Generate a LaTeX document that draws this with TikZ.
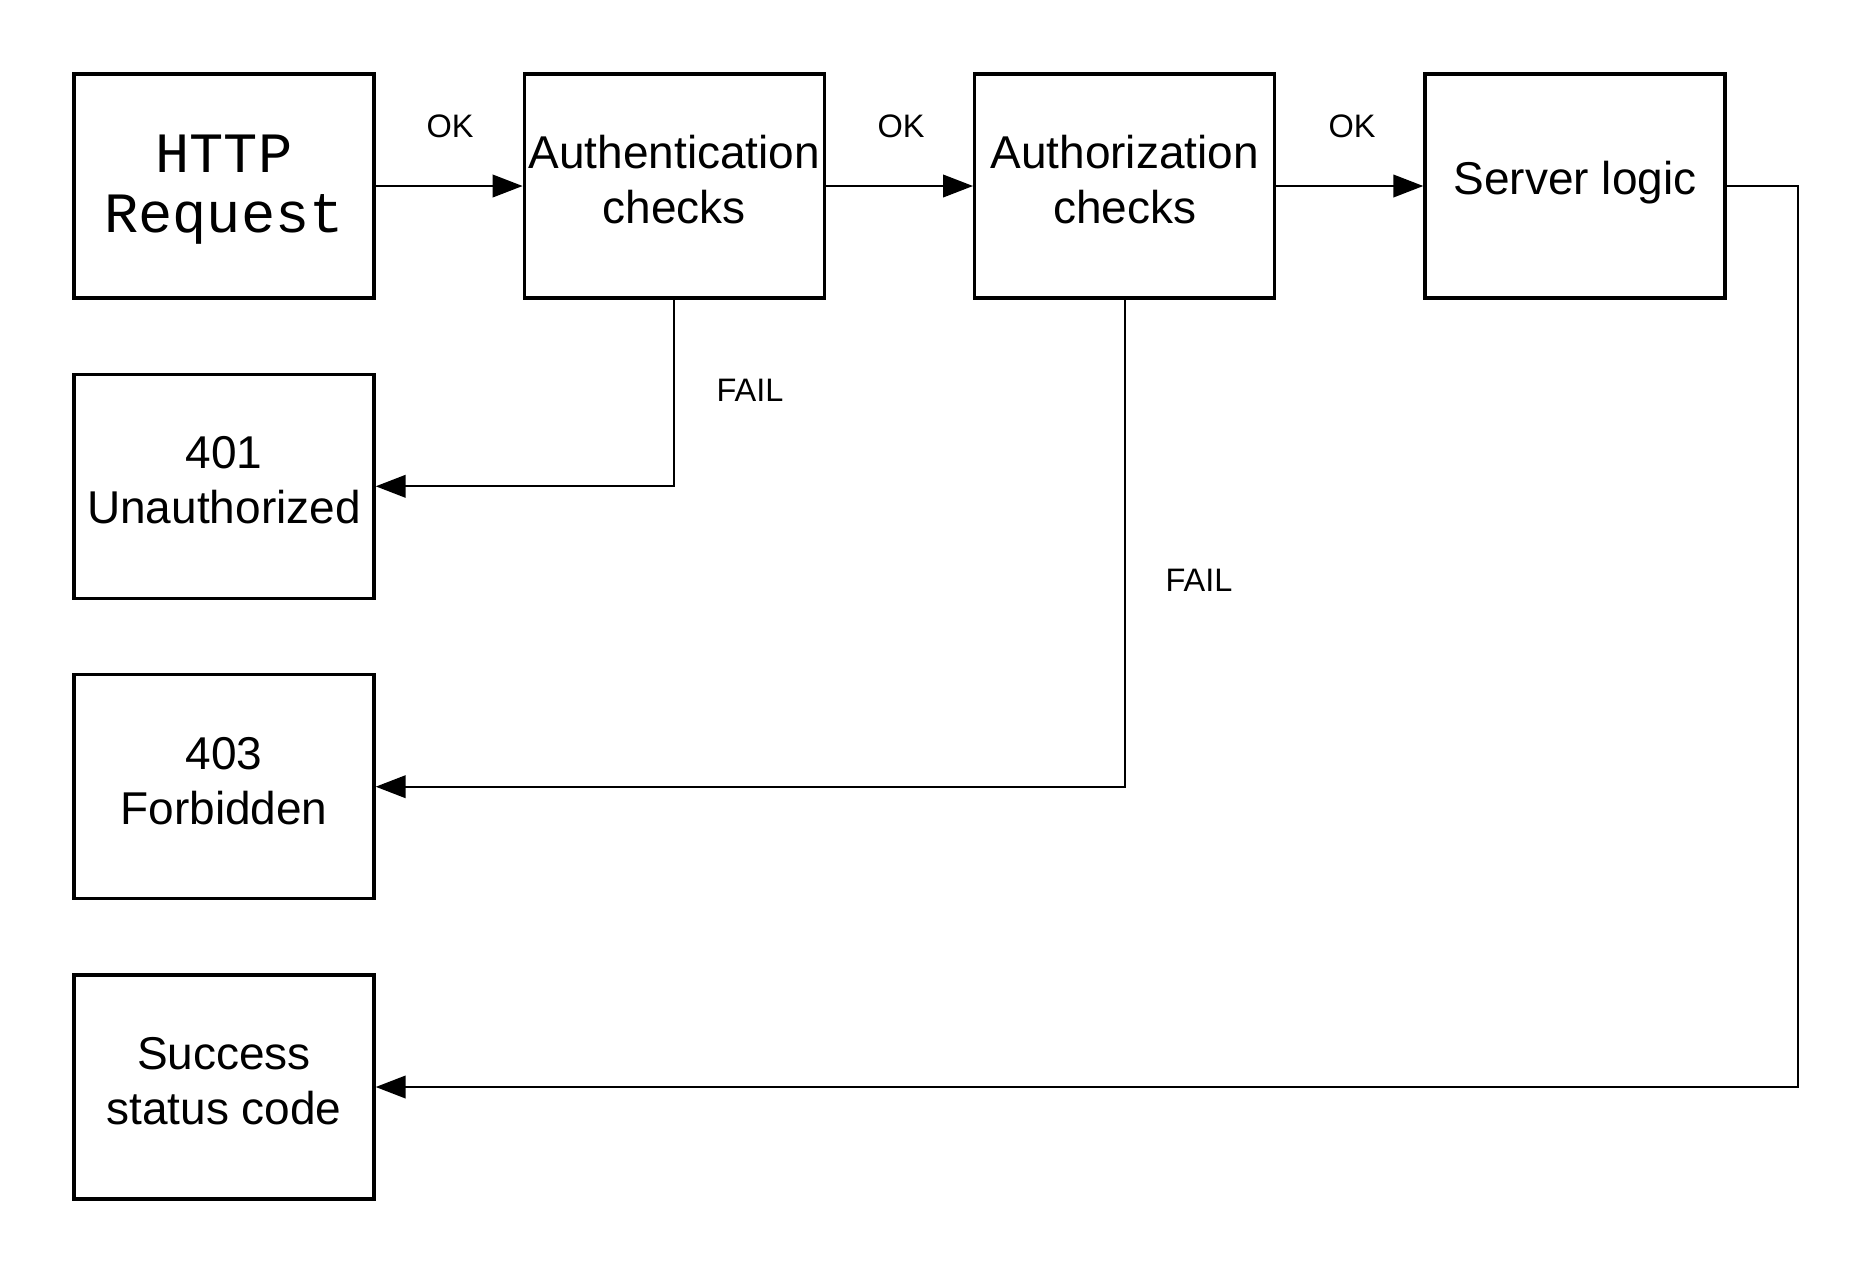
\documentclass[tikz,border=0pt]{standalone}
\usepackage{fontspec}
\setmainfont{Liberation Sans}
\newfontfamily\monofont{Liberation Mono}
\usetikzlibrary{arrows.meta}
\begin{document}
\begin{tikzpicture}[x=0.4pt,y=-0.4pt,
 box/.style={draw,line width=1.35pt,minimum width=120pt,minimum height=89.6pt,inner sep=0pt},
 txt/.style={inner sep=0pt,align=center,font=\fontsize{18.4}{22}\selectfont,yshift=2.4pt},
 mono/.style={inner sep=0pt,align=center,font=\monofont\fontsize{22.8}{24}\selectfont,yshift=-1.6pt},
 lbl/.style={font=\fontsize{13}{15}\selectfont,inner sep=0pt},
 conn/.style={line width=0.95pt,-{Triangle[length=12pt,width=9pt]}}]
\path[use as bounding box] (0,0) rectangle (1875,1275);
\node[box] (http) at (224,186) {};
\node[box] (auth) at (674.3,186) {};
\node[box] (authz) at (1124.7,186) {};
\node[box] (server) at (1575,186) {};
\node[box] (e401) at (224,486.3) {};
\node[box] (e403) at (224,786.7) {};
\node[box] (succ) at (224,1087) {};
\node[mono] (httpT) at (http) {HTTP\\Request};
\node[txt] (authT) at (auth) {Authentication\\checks};
\node[txt] (authzT) at (authz) {Authorization\\checks};
\node[txt,yshift=-1.2pt] (serverT) at (server) {Server logic};
\node[txt] (e401T) at (e401) {401\\Unauthorized};
\node[txt] (e403T) at (e403) {403\\Forbidden};
\node[txt] (succT) at (succ) {Success\\status code};
\coordinate (rt) at (1798,186);
\draw[conn] (http) -- (auth);
\draw[conn] (auth) -- (authz);
\draw[conn] (authz) -- (server);
\draw[conn] (auth.south) |- (e401);
\draw[conn] (authz.south) |- (e403);
\draw[conn] (server.east) -- (rt) |- (succ);
\node[lbl] (ok1) at (450,126) {OK};
\node[lbl] (ok2) at (901,126) {OK};
\node[lbl] (ok3) at (1352,126) {OK};
\node[lbl] (f1) at (750,390) {FAIL};
\node[lbl] (f2) at (1199,580) {FAIL};
\end{tikzpicture}
\end{document}
